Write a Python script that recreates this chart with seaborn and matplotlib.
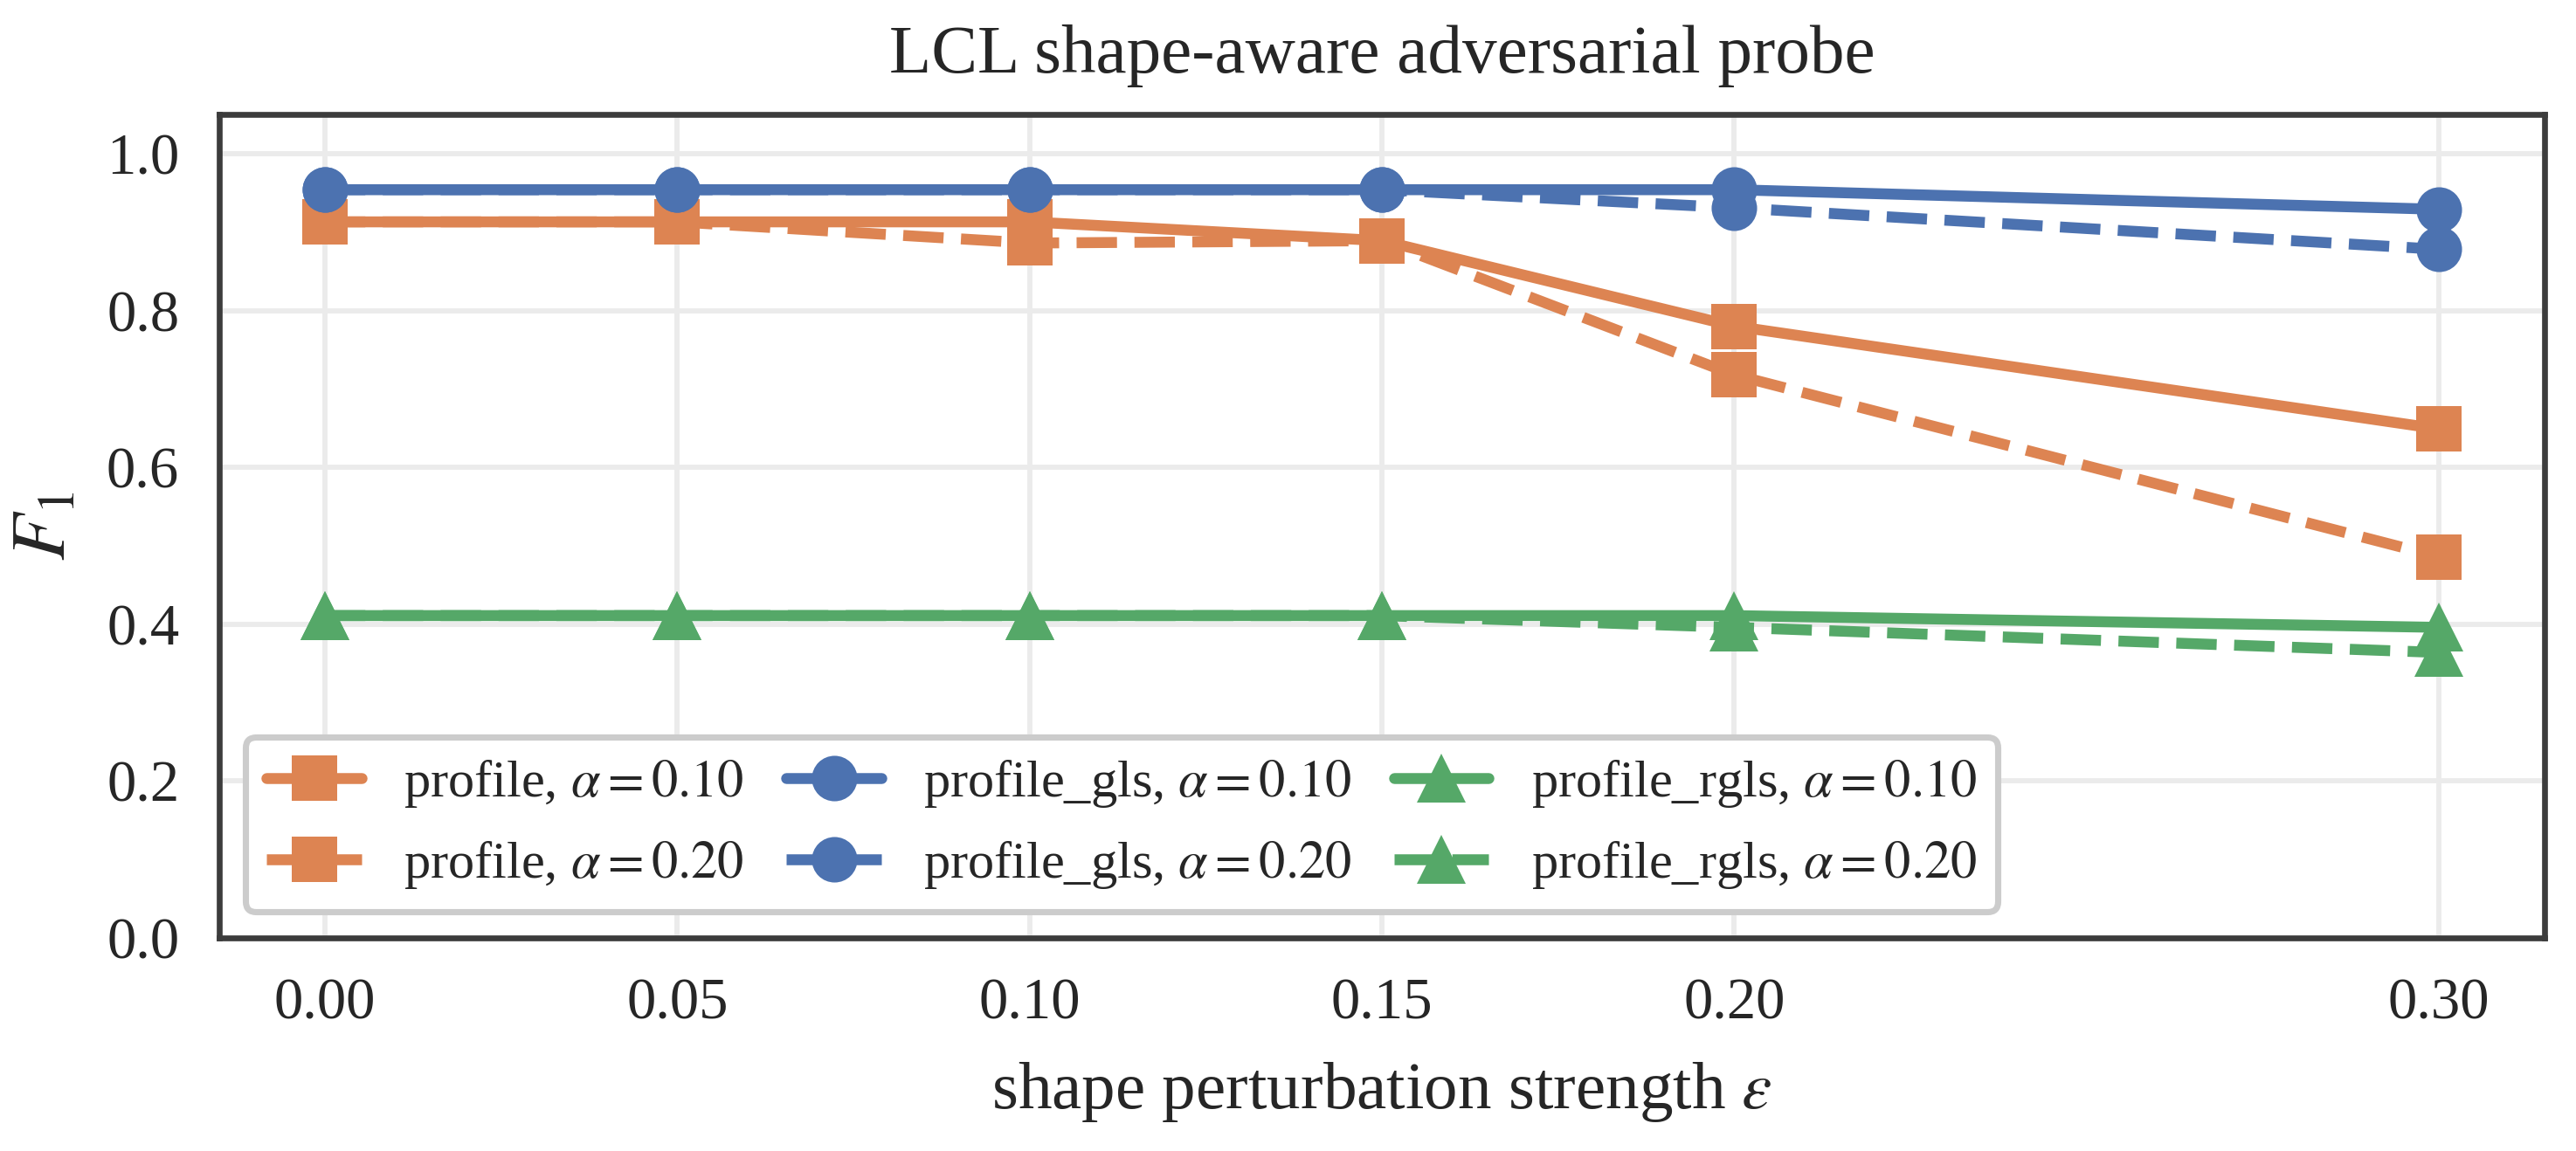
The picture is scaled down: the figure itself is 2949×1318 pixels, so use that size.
import matplotlib
matplotlib.use("Agg")
import matplotlib.pyplot as plt
import seaborn as sns

sns.set_theme(style="whitegrid")
plt.rcParams['font.family'] = ['Liberation Serif', 'DejaVu Serif']
plt.rcParams['mathtext.fontset'] = 'stix'

# perturbation strengths and F1 scores
eps = [0.00, 0.05, 0.10, 0.15, 0.20, 0.30]
profile_a10 = [0.913, 0.913, 0.913, 0.889, 0.780, 0.649]
profile_a20 = [0.913, 0.913, 0.886, 0.889, 0.718, 0.486]
gls_a10 = [0.954, 0.954, 0.954, 0.954, 0.954, 0.929]
gls_a20 = [0.954, 0.954, 0.954, 0.954, 0.931, 0.878]
rgls_a10 = [0.411, 0.411, 0.411, 0.411, 0.411, 0.396]
rgls_a20 = [0.411, 0.411, 0.411, 0.411, 0.396, 0.364]

pal = sns.color_palette("deep")
series = [
    ("profile, $\\alpha = 0.10$", profile_a10, pal[1], "s", "-"),
    ("profile, $\\alpha = 0.20$", profile_a20, pal[1], "s", "--"),
    ("profile_gls, $\\alpha = 0.10$", gls_a10, pal[0], "o", "-"),
    ("profile_gls, $\\alpha = 0.20$", gls_a20, pal[0], "o", "--"),
    ("profile_rgls, $\\alpha = 0.10$", rgls_a10, pal[2], "^", "-"),
    ("profile_rgls, $\\alpha = 0.20$", rgls_a20, pal[2], "^", "--"),
]

fig = plt.figure(figsize=(2949 / 300, 1318 / 300), dpi=300)
fig.subplots_adjust(left=0.0851, right=0.9878, top=0.9006, bottom=0.1851)
ax = fig.gca()

for lab, vals, col, mk, ls in series:
    ms = 13.5 if mk == "^" else 12.5
    sns.lineplot(x=eps, y=vals, ax=ax, color=col, marker=mk, linestyle=ls,
                 lw=3, ms=ms, mew=0, label=lab, legend=False)

ax.set_xlim(-0.015, 0.315)
ax.set_ylim(0, 1.05)
ax.set_xticks(eps)
ax.set_xticklabels(["%.2f" % e for e in eps])
ax.set_yticks([0.0, 0.2, 0.4, 0.6, 0.8, 1.0])
ax.set_yticklabels(["0.0", "0.2", "0.4", "0.6", "0.8", "1.0"])
ax.tick_params(axis='both', labelsize=16, pad=11, length=0, colors='#262626')

ax.grid(True, color='#ebebeb', lw=1.4)
for s in ax.spines.values():
    s.set_color('#3c3c3c')
    s.set_linewidth(1.6)

ax.set_title("LCL shape-aware adversarial probe", fontsize=19, pad=11.5)
ax.set_xlabel("shape perturbation strength $\\varepsilon$", fontsize=18.5, labelpad=8)
ax.set_ylabel("$F_1$", fontsize=21, labelpad=7)

handles, labels = ax.get_legend_handles_labels()
leg = ax.legend(handles, labels, loc='lower left', ncol=3, fontsize=14.5,
                frameon=True, fancybox=True, framealpha=1, edgecolor='#cccccc',
                columnspacing=0.8, handletextpad=0.8, labelspacing=0.55,
                handlelength=1.8)
leg.get_frame().set_linewidth(1.7)

fig.savefig("out.png", dpi=300)
